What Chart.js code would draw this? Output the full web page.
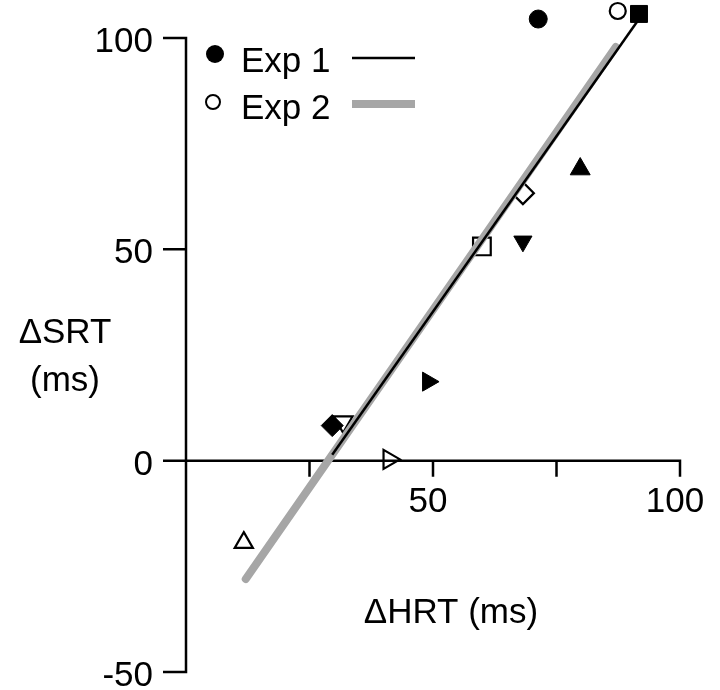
<!DOCTYPE html>
<html>
<head>
<meta charset="utf-8">
<script src="https://cdn.jsdelivr.net/npm/chart.js@4"></script>
<style>
  html, body { margin: 0; padding: 0; background: #fff; }
  #wrap { width: 720px; height: 690px; }
</style>
</head>
<body>
<div id="wrap"><canvas id="chart"></canvas></div>
<script>
// values (ms)
const exp1X = [71.3, 91.7, 79.8, 68.2, 49.0, 29.6];
const exp1Y = [104.5, 105.7, 69.0, 51.9, 18.7, 8.3];
const exp2X = [87.4, 68.2, 59.9, 31.8, 41.1, 11.7];
const exp2Y = [106.4, 63.3, 50.7, 9.2, 0.3, -19.4];

// fit lines, endpoints as drawn
const fit1X = [29.6, 91.7];
const fit1Y = [1.4, 104.5];
const fit2X = [12.1, 87.0];
const fit2Y = [-28.0, 97.9];

const xTicks = [25, 50, 75, 100];
const xTickLabels = ['', '50', '', '100'];
const yTicks = [-50, 0, 50, 100];

// marker shapes per point
const shapes = ['circle', 'rect', 'triangle', 'triangle', 'triangle', 'rectRot'];
const shapes2 = ['circle', 'rectRot', 'rect', 'triangle', 'triangle', 'triangle'];
const rot1 = [0, 0, 0, 180, 90, 0];
const rot2 = [0, 0, 0, 180, 90, 0];
const size1 = [9, 12, 11.5, 10.5, 11, 11];
const size2 = [8, 11, 12.5, 11, 11, 10.5];

const FONT = '"Liberation Sans", Arial, Helvetica, sans-serif';
const FSIZE = '35px ';

const pts = (xs, ys) => xs.map((v, i) => ({ x: v, y: ys[i] }));

const crossAxes = {
  id: 'crossAxes',
  beforeDatasetsDraw(chart) {
    const { ctx, scales: { x, y } } = chart;
    const x0 = x.getPixelForValue(0);
    const y0 = y.getPixelForValue(0);
    ctx.save();
    ctx.strokeStyle = '#000';
    ctx.lineWidth = 2.5;
    ctx.lineCap = 'butt';

    // y axis with ticks pointing left
    const yTop = y.getPixelForValue(yTicks[yTicks.length - 1]);
    const yBot = y.getPixelForValue(yTicks[0]);
    ctx.beginPath();
    ctx.moveTo(x0 - 23, yTop);
    ctx.lineTo(x0, yTop);
    ctx.lineTo(x0, yBot);
    ctx.lineTo(x0 - 23, yBot);
    yTicks.slice(1, -1).forEach(v => {
      const p = y.getPixelForValue(v);
      ctx.moveTo(x0 - 23, p);
      ctx.lineTo(x0, p);
    });
    ctx.stroke();

    // x axis along y = 0, ticks pointing down
    const xEnd = x.getPixelForValue(xTicks[xTicks.length - 1]);
    ctx.beginPath();
    ctx.moveTo(x0, y0);
    ctx.lineTo(xEnd, y0);
    ctx.lineTo(xEnd, y0 + 16);
    xTicks.slice(0, -1).forEach(v => {
      const p = x.getPixelForValue(v);
      ctx.moveTo(p, y0);
      ctx.lineTo(p, y0 + 16);
    });
    ctx.stroke();

    ctx.fillStyle = '#000';
    ctx.font = FSIZE + FONT;
    ctx.textBaseline = 'alphabetic';
    ctx.textAlign = 'right';
    yTicks.forEach(v => {
      ctx.fillText(String(v), x0 - 33, y.getPixelForValue(v) + 14);
    });
    ctx.textAlign = 'center';
    xTicks.forEach((v, i) => {
      if (xTickLabels[i]) ctx.fillText(xTickLabels[i], x.getPixelForValue(v) - 5, y0 + 51);
    });

    // axis titles
    ctx.fillText('\u0394SRT', 65, 343);
    ctx.fillText('(ms)', 65, 391);
    ctx.fillText('\u0394HRT (ms)', 451, 623);
    ctx.restore();
  },
  afterDraw(chart) {
    const { ctx } = chart;
    ctx.save();
    ctx.font = FSIZE + FONT;
    ctx.textAlign = 'left';
    ctx.textBaseline = 'alphabetic';
    ctx.fillStyle = '#000';
    // Exp 1 row
    ctx.beginPath();
    ctx.arc(215, 54, 9, 0, Math.PI * 2);
    ctx.fill();
    ctx.fillText('Exp 1', 241, 72);
    ctx.strokeStyle = '#000';
    ctx.lineWidth = 2.5;
    ctx.beginPath();
    ctx.moveTo(352, 58);
    ctx.lineTo(415, 58);
    ctx.stroke();
    // Exp 2 row
    ctx.lineWidth = 2;
    ctx.beginPath();
    ctx.arc(213, 102, 7, 0, Math.PI * 2);
    ctx.stroke();
    ctx.fillText('Exp 2', 241, 119);
    ctx.strokeStyle = '#a6a6a6';
    ctx.lineWidth = 8;
    ctx.beginPath();
    ctx.moveTo(352, 104);
    ctx.lineTo(415, 104);
    ctx.stroke();
    ctx.restore();
  }
};

new Chart(document.getElementById('chart'), {
  type: 'scatter',
  data: {
    datasets: [
      {
        label: 'Exp 1 fit',
        data: pts(fit1X, fit1Y),
        showLine: true,
        borderColor: '#000',
        borderWidth: 2.5,
        pointRadius: 0,
        clip: false,
        order: 0
      },
      {
        label: 'Exp 2 fit',
        data: pts(fit2X, fit2Y),
        showLine: true,
        borderColor: '#a6a6a6',
        borderWidth: 8,
        borderCapStyle: 'round',
        pointRadius: 0,
        clip: false,
        order: 1
      },
      {
        label: 'Exp 1',
        data: pts(exp1X, exp1Y),
        pointStyle: shapes,
        rotation: rot1,
        pointRadius: size1,
        backgroundColor: '#000',
        borderColor: '#000',
        borderWidth: 1,
        clip: false,
        order: 2
      },
      {
        label: 'Exp 2',
        data: pts(exp2X, exp2Y),
        pointStyle: shapes2,
        rotation: rot2,
        pointRadius: size2,
        backgroundColor: 'rgba(255,255,255,0)',
        borderColor: '#000',
        borderWidth: 2.2,
        clip: false,
        order: 3
      }
    ]
  },
  options: {
    responsive: true,
    maintainAspectRatio: false,
    animation: false,
    layout: { autoPadding: false, padding: { left: 186, right: 40, top: 0, bottom: 18 } },
    scales: {
      x: { type: 'linear', min: 0, max: 100, display: false },
      y: { type: 'linear', min: -50, max: 109, display: false }
    },
    plugins: {
      legend: { display: false },
      tooltip: { enabled: false }
    }
  },
  plugins: [crossAxes]
});
</script>
</body>
</html>
